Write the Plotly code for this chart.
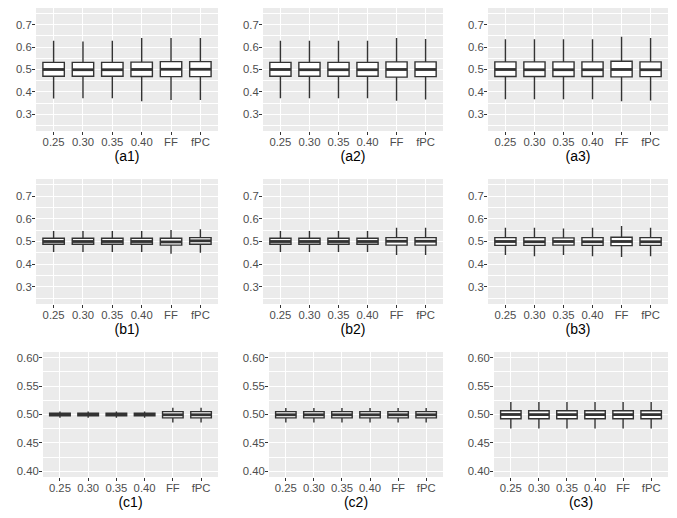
import plotly.graph_objects as go

# The page body adds an 8px margin, so the figure is drawn 16px smaller
# and all reference pixel positions are shifted by 8px.
PAGE_W, PAGE_H = 677, 518
OFF = 8
W, H = PAGE_W - 2 * OFF, PAGE_H - 2 * OFF

categories = ["0.25", "0.30", "0.35", "0.40", "FF", "fPC"]
panel_titles = ["(a1)", "(a2)", "(a3)", "(b1)", "(b2)", "(b3)", "(c1)", "(c2)", "(c3)"]

# five-number summaries per panel: lower whisker, Q1, median, Q3, upper whisker
a1_lo = [0.370, 0.372, 0.372, 0.358, 0.364, 0.364]
a1_q1 = [0.470, 0.470, 0.470, 0.469, 0.468, 0.468]
a1_md = [0.500, 0.499, 0.499, 0.500, 0.501, 0.501]
a1_q3 = [0.532, 0.532, 0.532, 0.533, 0.535, 0.535]
a1_hi = [0.629, 0.625, 0.628, 0.641, 0.641, 0.641]

a2_lo = [0.372, 0.372, 0.372, 0.372, 0.360, 0.366]
a2_q1 = [0.470, 0.470, 0.470, 0.470, 0.466, 0.468]
a2_md = [0.500, 0.499, 0.499, 0.499, 0.500, 0.500]
a2_q3 = [0.532, 0.532, 0.532, 0.532, 0.534, 0.534]
a2_hi = [0.628, 0.628, 0.628, 0.628, 0.641, 0.636]

a3_lo = [0.367, 0.367, 0.367, 0.367, 0.358, 0.361]
a3_q1 = [0.469, 0.469, 0.469, 0.469, 0.467, 0.468]
a3_md = [0.500, 0.499, 0.499, 0.499, 0.500, 0.499]
a3_q3 = [0.534, 0.534, 0.534, 0.534, 0.537, 0.534]
a3_hi = [0.635, 0.635, 0.635, 0.635, 0.647, 0.641]

b1_lo = [0.454, 0.454, 0.454, 0.454, 0.446, 0.450]
b1_q1 = [0.488, 0.488, 0.488, 0.488, 0.484, 0.488]
b1_md = [0.500, 0.500, 0.500, 0.500, 0.498, 0.503]
b1_q3 = [0.514, 0.514, 0.514, 0.514, 0.514, 0.517]
b1_hi = [0.546, 0.546, 0.546, 0.546, 0.551, 0.554]

b2_lo = [0.454, 0.454, 0.454, 0.454, 0.441, 0.441]
b2_q1 = [0.488, 0.488, 0.488, 0.488, 0.484, 0.484]
b2_md = [0.500, 0.500, 0.500, 0.500, 0.501, 0.501]
b2_q3 = [0.514, 0.514, 0.514, 0.514, 0.517, 0.517]
b2_hi = [0.546, 0.546, 0.546, 0.546, 0.560, 0.560]

b3_lo = [0.441, 0.435, 0.441, 0.435, 0.432, 0.435]
b3_q1 = [0.483, 0.483, 0.484, 0.483, 0.482, 0.483]
b3_md = [0.500, 0.499, 0.500, 0.499, 0.500, 0.499]
b3_q3 = [0.517, 0.517, 0.516, 0.517, 0.519, 0.517]
b3_hi = [0.560, 0.561, 0.557, 0.561, 0.568, 0.561]

c1_lo = [0.4945, 0.4945, 0.4945, 0.4945, 0.4860, 0.4860]
c1_q1 = [0.4978, 0.4978, 0.4978, 0.4978, 0.4940, 0.4940]
c1_md = [0.5000, 0.5000, 0.5000, 0.5000, 0.4995, 0.4995]
c1_q3 = [0.5022, 0.5022, 0.5022, 0.5022, 0.5050, 0.5050]
c1_hi = [0.5055, 0.5055, 0.5055, 0.5055, 0.5120, 0.5120]

c2_lo = [0.4860, 0.4860, 0.4860, 0.4860, 0.4860, 0.4860]
c2_q1 = [0.4940, 0.4940, 0.4940, 0.4940, 0.4940, 0.4940]
c2_md = [0.4995, 0.4995, 0.4995, 0.4995, 0.4995, 0.4995]
c2_q3 = [0.5050, 0.5050, 0.5050, 0.5050, 0.5050, 0.5050]
c2_hi = [0.5115, 0.5115, 0.5115, 0.5115, 0.5115, 0.5115]

c3_lo = [0.4755, 0.4755, 0.4755, 0.4755, 0.4755, 0.4755]
c3_q1 = [0.4925, 0.4925, 0.4925, 0.4925, 0.4925, 0.4925]
c3_md = [0.5000, 0.4998, 0.4998, 0.4998, 0.4998, 0.4998]
c3_q3 = [0.5065, 0.5065, 0.5065, 0.5065, 0.5065, 0.5065]
c3_hi = [0.5220, 0.5220, 0.5220, 0.5220, 0.5220, 0.5220]

panels = [
    (a1_lo, a1_q1, a1_md, a1_q3, a1_hi),
    (a2_lo, a2_q1, a2_md, a2_q3, a2_hi),
    (a3_lo, a3_q1, a3_md, a3_q3, a3_hi),
    (b1_lo, b1_q1, b1_md, b1_q3, b1_hi),
    (b2_lo, b2_q1, b2_md, b2_q3, b2_hi),
    (b3_lo, b3_q1, b3_md, b3_q3, b3_hi),
    (c1_lo, c1_q1, c1_md, c1_q3, c1_hi),
    (c2_lo, c2_q1, c2_md, c2_q3, c2_hi),
    (c3_lo, c3_q1, c3_md, c3_q3, c3_hi),
]

# layout (page pixels of the panels)
cols_ab = [(36, 218), (263, 443), (488, 668)]
cols_c = [(43, 218), (269, 443), (494, 668)]
rows = [(8, 131), (179, 304), (352, 477)]
title_standoff = [3, 3, 6]

FONT = "Liberation Sans, Arial, sans-serif"
EDGE = "#333333"
BOXW = 0.73
XPAD = 0.6

fig = go.Figure()
layout = dict(
    width=W, height=H, margin=dict(l=0, r=0, t=0, b=0, autoexpand=False),
    paper_bgcolor="white", plot_bgcolor="#EBEBEB",
    showlegend=False, boxgap=1 - BOXW, boxgroupgap=0,
    font=dict(family=FONT, color="#4D4D4D", size=11.3),
)


def frac(v):
    return min(1.0, max(0.0, v))


for i, (lo, q1, md, q3, hi) in enumerate(panels):
    r, c = divmod(i, 3)
    k = i + 1
    xs = "" if k == 1 else str(k)
    x0, x1 = (cols_c if r == 2 else cols_ab)[c]
    y0, y1 = rows[r]
    x0, x1, y0, y1 = x0 - OFF, x1 - OFF, y0 - OFF, y1 - OFF
    fig.add_trace(go.Box(
        x=categories, lowerfence=lo, q1=q1, median=md, q3=q3, upperfence=hi,
        fillcolor="white", line=dict(color=EDGE, width=1.4), whiskerwidth=0,
        boxpoints=False, xaxis="x" + xs, yaxis="y" + xs, hoverinfo="skip",
    ))
    # thicker median bar, as wide as the box (line-ew length is 1.4 x size)
    box_px = (x1 - x0) / (len(categories) - 1 + 2 * XPAD) * BOXW
    fig.add_trace(go.Scatter(
        x=categories, y=md, mode="markers",
        marker=dict(symbol="line-ew", size=box_px / 1.4,
                    line=dict(color=EDGE, width=2.8)),
        xaxis="x" + xs, yaxis="y" + xs, hoverinfo="skip",
    ))
    if r < 2:
        yr = [0.225, 0.775]; dt = 0.1; fmt = ".1f"
    else:
        yr = [0.39, 0.61]; dt = 0.05; fmt = ".2f"
    layout["xaxis" + xs] = dict(
        domain=[frac(x0 / W), frac(x1 / W)], anchor="y" + xs, type="category",
        range=[-XPAD, len(categories) - 1 + XPAD],
        showgrid=True, gridcolor="white", gridwidth=1.3, zeroline=False,
        ticks="outside", ticklen=3, tickwidth=1.1, tickcolor=EDGE,
        ticklabelstandoff=-3,
        tickfont=dict(size=11.3, color="#4D4D4D"),
        title=dict(text=panel_titles[i], font=dict(size=14, color="black"),
                   standoff=title_standoff[r]),
        showline=False, fixedrange=True,
    )
    layout["yaxis" + xs] = dict(
        domain=[frac(1 - y1 / H), frac(1 - y0 / H)], anchor="x" + xs, range=yr,
        tick0=0, dtick=dt, tickformat=fmt,
        showgrid=True, gridcolor="white", gridwidth=1.3, zeroline=False,
        ticks="outside", ticklen=3, tickwidth=1.1, tickcolor=EDGE,
        ticklabelstandoff=-2,
        tickfont=dict(size=11.3, color="#4D4D4D"),
        minor=dict(dtick=dt / 2, tick0=0, showgrid=True, gridcolor="white",
                   gridwidth=0.6, ticks=""),
        showline=False, fixedrange=True,
    )

fig.update_layout(**layout)
fig.write_html("out.html")
